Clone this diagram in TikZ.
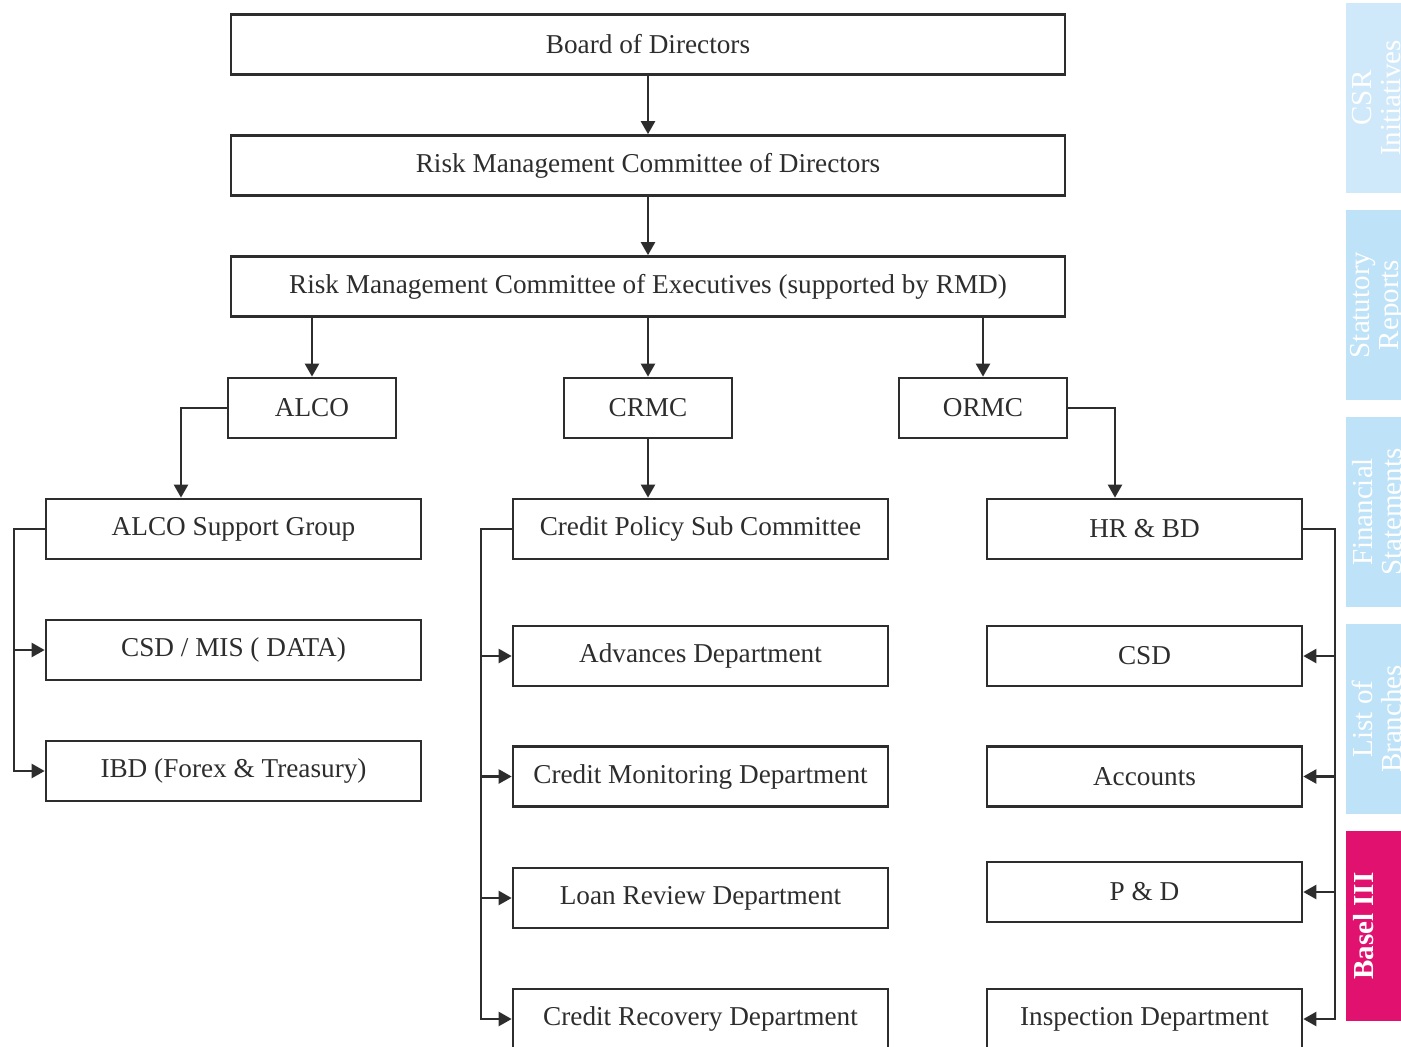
\documentclass[tikz,border=0pt]{standalone}
\usepackage{fontspec}
\setmainfont{Liberation Serif}
\usetikzlibrary{positioning,arrows.meta}

\definecolor{tabblue}{RGB}{190,226,247}
\definecolor{tabpale}{RGB}{207,233,250}
\definecolor{tabpink}{RGB}{225,17,111}
\definecolor{boxline}{RGB}{45,45,45}
\definecolor{boxtext}{RGB}{45,45,45}

\tikzset{
  unit/.style={draw=boxline, line width=1.5pt, text=boxtext, minimum height=1.2cm, inner sep=0pt, font=\fontsize{15.5}{18}\selectfont},
  wide/.style={unit, minimum width=16.68cm},
  small/.style={unit, minimum width=3.36cm},
  dept/.style={unit, minimum width=7.5cm},
  side/.style={unit, minimum width=6.3cm},
  conn/.style={draw=boxline, line width=1.5pt, -{Triangle[length=7.5pt,width=8pt]}},
  tab/.style={fill=#1, minimum width=1.1cm, minimum height=3.8cm, inner sep=0pt},
  tablabel/.style={text=white, rotate=90, align=center, font=\fontsize{16.5}{16.5}\selectfont}
}

\begin{document}
\begin{tikzpicture}[x=0.02cm,y=-0.02cm]
  \useasboundingbox (0,0) rectangle (1401,1046);

  % side tabs
  \node[tab=tabpale] (tabcsr) at (1373.5,98) {};
  \node[tab=tabblue] (tabstat) at (1373.5,305) {};
  \node[tab=tabblue] (tabfin) at (1373.5,512) {};
  \node[tab=tabblue] (tabbranch) at (1373.5,719) {};
  \node[tab=tabpink] (tabbasel) at (1373.5,926) {};
  \node[tablabel] (csrtext) at (1377,98) {CSR\\Initiatives};
  \node[tablabel] (stattext) at (1377,305) {Statutory\\Reports};
  \node[tablabel] (fintext) at (1377,512) {Financial\\Statements};
  \node[tablabel] (branchtext) at (1377,719) {List of\\Branches};
  \node[tablabel, font=\fontsize{16.5}{16.5}\selectfont\bfseries] (baseltext) at (1364,926) {Basel III};

  % committees
  \node[wide] (board) at (648,44.5) {Board of Directors};
  \node[wide] (rmcd) at (648,165.5) {Risk Management Committee of Directors};
  \node[wide] (rmce) at (648,286.5) {Risk Management Committee of Executives (supported by RMD)};
  \node[small] (alco) at (312,408) {ALCO};
  \node[small] (crmc) at (648,408) {CRMC};
  \node[small] (ormc) at (983,408) {ORMC};

  % departments
  \node[dept] (asg) at (233.5,529) {ALCO Support Group};
  \node[dept] (csdmis) at (233.5,650) {CSD / MIS ( DATA)};
  \node[dept] (ibd) at (233.5,771) {IBD (Forex \& Treasury)};

  \node[dept] (cpsc) at (700.5,529) {Credit Policy Sub Committee};
  \node[dept] (adv) at (700.5,656) {Advances Department};
  \node[dept] (cmd) at (700.5,776.5) {Credit Monitoring Department};
  \node[dept] (lrd) at (700.5,898) {Loan Review Department};
  \node[dept] (crd) at (700.5,1019) {Credit Recovery Department};

  \node[side] (hrbd) at (1144.5,529) {HR \& BD};
  \node[side] (csd) at (1144.5,656) {CSD};
  \node[side] (acc) at (1144.5,776.5) {Accounts};
  \node[side] (pd) at (1144.5,892) {P \& D};
  \node[side] (insp) at (1144.5,1019) {Inspection Department};

  \coordinate (alcodrop) at (181,0);
  \coordinate (ormcdrop) at (1115,0);
  \coordinate (alcobus) at (14,0);
  \coordinate (crmcbus) at (481,0);
  \coordinate (ormcbus) at (1335,0);

  \draw[conn] (board) -- (rmcd);
  \draw[conn] (rmcd) -- (rmce);
  \foreach \c in {alco,crmc,ormc}
    \draw[conn] (\c.north |- rmce.south) -- (\c.north);
  \draw[conn] (alco.west) -| (alcodrop |- asg.north);
  \draw[conn] (crmc) -- (crmc |- cpsc.north);
  \draw[conn] (ormc.east) -| (ormcdrop |- hrbd.north);

  \draw[conn] (asg.west) -| (alcobus |- ibd.west) -- (ibd.west);
  \draw[conn] (alcobus |- csdmis.west) -- (csdmis.west);

  \draw[conn] (cpsc.west) -| (crmcbus |- crd.west) -- (crd.west);
  \foreach \d in {adv,cmd,lrd}
    \draw[conn] (crmcbus |- \d.west) -- (\d.west);

  \draw[conn] (hrbd.east) -| (ormcbus |- insp.east) -- (insp.east);
  \foreach \d in {csd,acc,pd}
    \draw[conn] (ormcbus |- \d.east) -- (\d.east);
\end{tikzpicture}
\end{document}
